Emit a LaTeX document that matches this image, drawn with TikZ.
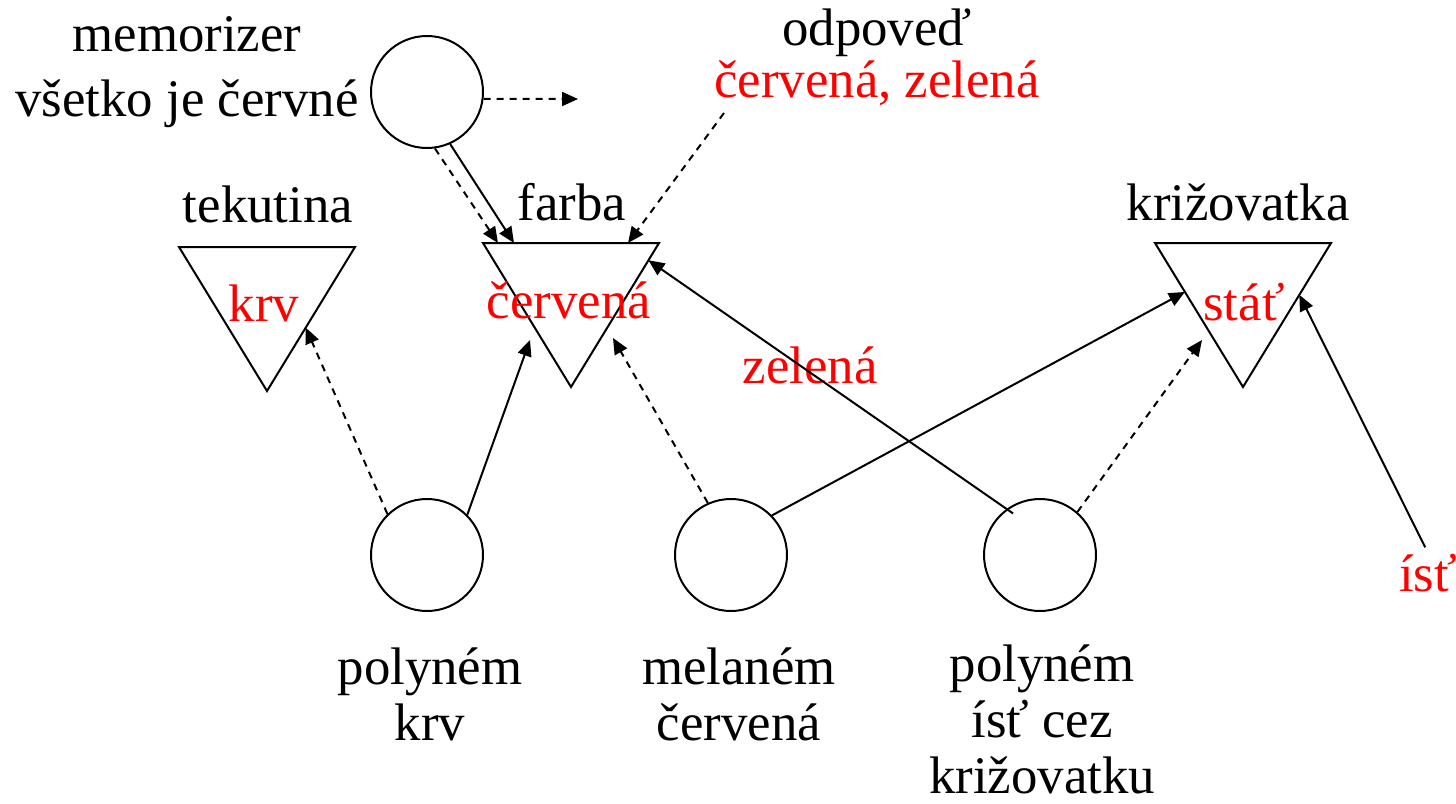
\documentclass[tikz,border=0pt]{standalone}
\usepackage{fontspec}
\setmainfont{Liberation Serif}
\usetikzlibrary{arrows.meta,calc}

\begin{document}
\begin{tikzpicture}[x=0.5pt,y=-0.5pt,line width=1pt,>={Triangle[length=8pt,width=7pt]},
    word/.style={inner sep=0pt,font=\fontsize{26.4}{28}\selectfont},
    hint/.style={word,text=red},
    unit/.style={circle,draw,minimum size=56pt,inner sep=0pt},
    strong/.style={->},
    weak/.style={->,dash pattern=on 3.5pt off 3pt}]
  \useasboundingbox (0,0) rectangle (1456,803);

  % concepts (triangles)
  \foreach \n/\x/\y in {tek/267/247,far/571/243,kri/1243/243}{
    \coordinate (\n-l) at (\x-88,\y);
    \coordinate (\n-r) at (\x+88,\y);
    \coordinate (\n-b) at (\x,\y+144);
    \draw (\n-l) -- (\n-r) -- (\n-b) -- cycle;
  }
  \node [word,anchor=base] (tekutina) at (268,222) {tekutina};
  \node [word,anchor=base] (farba) at (572,220) {farba};
  \node [word,anchor=base] (krizovatka) at (1238,220) {križovatka};
  \node [hint,anchor=base] (krv) at (264,321) {krv};
  \node [hint,anchor=base] (cervena) at (569,318) {červená};
  \node [hint,anchor=base] (stat) at (1244,320) {stáť};

  % units
  \node [unit] (nmem) at (427,92) {};
  \node [unit] (nkrv) at (427,555) {};
  \node [unit] (ncerv) at (731,555) {};
  \node [unit] (nist) at (1040,555) {};

  % multi-line labels sit on their last baseline
  \node [word,anchor=base,align=center,font=\fontsize{26.4}{32.5}\selectfont] (memorizer) at (187,116) {memorizer\\všetko je červné};
  \node [word,anchor=base,align=center,font=\fontsize{26.4}{26}\selectfont] (odpoved) at (877,97) {odpoveď\\\textcolor{red}{červená, zelená}};
  \node [word,anchor=base,align=center] (lkrv) at (430,740) {polyném\\krv};
  \node [word,anchor=base,align=center] (lcerv) at (739,740) {melaném\\červená};
  \node [word,anchor=base,align=center] (list) at (1042,793) {polyném\\ísť cez\\križovatku};
  \node [hint,anchor=base] (zelena) at (810,383) {zelená};
  \node [hint,anchor=base west] (ist) at (1398,591) {ísť};

  \coordinate (mem-out) at (578,99);
  \coordinate (odp-tail) at (724,113);

  \draw [weak] (nmem.-7) -- (mem-out);
  \draw [weak] (nmem.-82) -- ($(far-l)!0.085!(far-r)$);
  \draw [strong] (nmem.-66) -- ($(far-l)!0.176!(far-r)$);
  \draw [weak] (odp-tail) -- ($(far-l)!0.824!(far-r)$);

  \draw [weak] (nkrv.134) -- ($(tek-r)!0.56!(tek-b)$);
  \draw [strong] (nkrv.45) -- ($(far-b)+(-41,-47)$);

  \draw [weak] (ncerv.114) -- ($(far-b)+(42,-49)$);
  \draw [strong] (ncerv.44) -- ($(kri-l)!0.34!(kri-b)$);

  \draw [strong,shorten <=-4pt] (nist.126) -- ($(far-r)!0.12!(far-b)$);
  \draw [weak] (nist.49) -- ($(kri-b)+(-41,-47)$);
  \draw [strong,shorten <=3pt] (ist.north) -- ($(kri-r)!0.36!(kri-b)$);
\end{tikzpicture}
\end{document}
